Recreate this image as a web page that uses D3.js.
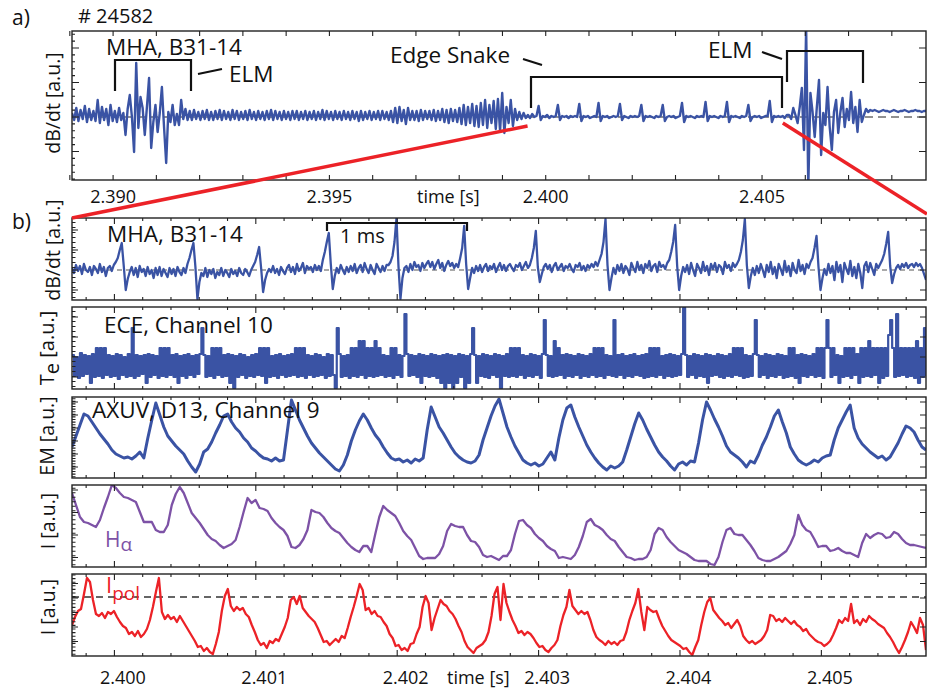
<!DOCTYPE html>
<html><head><meta charset="utf-8">
<script src="https://cdn.jsdelivr.net/npm/d3@7"></script>
<style>body{margin:0;background:#fff}svg text{font-family:"Open Sans",sans-serif;fill:#111}</style>
</head><body>
<svg id="c" width="927" height="689"></svg>
<script>
// ---------------- DATA ----------------
const shotLabel = "# 24582";
const aTimeDomain = [2.38905, 2.40879];            // overview time window [s]
const bTimeDomain = [2.39970, 2.40574];            // zoomed time window [s]
const aTickLabels = [2.390, 2.395, 2.400, 2.405];
const bTickLabels = [2.400, 2.401, 2.402, 2.403, 2.404, 2.405];
const zoomTimes = [2.39958, 2.40548];               // zoomed interval marked in a)

// a) MHA B31-14 dB/dt, uniform samples over aTimeDomain
const mhaA = [4,-3,9,-4,7,-2,11,-5,8,-3, 6,-4,17,-6,10,-3,8,-8,12,-4, 6,-5,9,-3,4,-18,8,22,0,-35,
54,-11,20,9,-18,10,39,-31,-5,12, -15,4,30,-10,-46,5,-5,12,-8,3, -8,17,-2,8,-3,6,-3,7,-2,5,
-3,6,-2,7,-3,5,-3,6,-2,7, -3,6,-2,5,-3,7,-2,6,-3,5, -2,6,-3,7,-2,5,-3,6,-2,5, -3,6,-2,7,-3,6,-2,5,-3,6,
-2,5,-3,6,-2,6,-3,5,-2,6, -3,5,-2,6,-3,5,-2,7,-3,6, -2,5,-3,6,-2,5,-3,6,-2,5, -3,6,-2,5,-4,6,-3,5,-2,6,
-3,5,-2,6,-3,6,-2,5,-3,6, -5,9,-6,10,-4,7,-7,9,-3,6, -3,6,-4,7,-3,6,-2,6,-3,7, -4,6,-3,8,-5,7,-6,8,-4,7,
-5,9,-7,12,-8,10,-6,13,-9,11, -10,14,-8,17,-11,12,-6,16,-12,18, -14,24,-16,10,-6,17,-9,8,-3,5,
-2,4,-1,2,-1,3,0,1,11,-3, 1,0,2,-1,1,0,1,12,-3,1, 0,1,-1,1,0,1,0,13,-4,1, 0,1,-1,0,1,0,14,-4,1,0,
1,-1,0,1,0,1,13,-3,1,0, -1,1,0,1,0,1,12,-4,1,0, 1,0,-1,1,0,1,12,-4,0,1, 0,1,-1,0,1,14,-5,1,0,1,
0,-1,1,0,1,0,15,-4,1,0, 1,0,-1,1,0,1,15,-5,1,0, 1,0,-1,1,0,1,12,-4,0,1, 0,1,-1,0,1,1,16,-5,1,0,
1,0,1,-1,2,2,-2,9,2,-6, 10,29,-33,90,-70,24,5,-20,10,37, -38,4,-8,30,-10,-33,5,17,-16,5,
19,-10,8,-3,25,-6,10,-15,17,-5, 2,8,5,7,
6,7,6,5,6,7,6,6,5,6,7,6,5,6,6,7,6,5,6,6,7,6,6,5,6,6];

// b) MHA B31-14 dB/dt, uniform samples over bTimeDomain
const mhaB = [2,-3,5,-1,4,-4,6,0,-2,3, -5,4,1,-3,6,-2,3,-6,2,4, -1,5,8,12,20,27,4,-20,-9,-2,
3,-5,2,-7,4,-2,1,-6,3,-4, 0,-8,2,-5,3,-6,1,-3,-7,2, -4,1,-6,3,-2,-5,2,-3,6,12,
20,27,3,-29,-12,-3,-6,2,-7,0, -4,1,-8,-2,-5,2,-6,0,-3,-7, 1,-4,-1,-6,2,-3,-5,1,-2,-6,
0,4,8,15,23,2,-22,-10,-3,1, -2,4,-3,1,-5,3,-1,-4,2,5, -2,3,-4,6,-1,2,7,-3,4,1,
3,-2,5,0,4,-1,10,18,28,37, 6,-19,-6,2,-3,5,0,-4,3,-2, 4,-1,6,-3,2,5,-2,7,1,-3,
5,0,-4,6,2,-2,4,-1,5,5, 8,14,28,52,4,-29,-8,2,4,-2, 6,0,8,3,5,-1,7,2,6,9,
3,8,1,6,10,2,7,-1,5,9, 4,7,2,6,3,12,22,44,6,-19, -8,2,-3,4,-1,5,-2,3,6,-1,
4,1,6,-2,3,7,0,5,-1,4, 6,2,-1,5,3,7,0,4,8,2, 5,12,22,39,3,-12,-4,3,6,1,
5,-2,4,7,0,3,6,-1,4,2, 6,1,-2,5,3,7,0,4,-1,5, 2,6,3,8,4,10,16,28,51,5,
-20,-8,2,-4,5,-1,6,-3,4,1, -5,7,2,-2,8,0,5,-3,6,2, 9,-1,4,6,-2,8,3,5,1,7,
10,18,28,45,4,-20,-6,3,-2,5, -4,7,0,-6,6,2,-3,8,-1,4, -5,6,1,7,-2,5,3,-4,8,2,
5,-1,7,3,6,10,18,30,51,5, -18,-6,2,-5,4,-3,6,0,-7,5, -2,8,-4,3,-8,6,1,-5,9,-2,
4,-6,7,0,-3,10,-1,5,-4,6, 2,8,12,22,34,3,-20,-8,1,-5, 6,-3,4,-10,8,-2,5,-12,7,1,
-4,9,-6,3,-8,6,-3,-18,4,8, -2,7,1,-5,6,2,6,10,16,26, 38,4,-13,-4,2,5,1,6,3,7,
2,5,6,3,7,4,6,2,-4,-10];

const ece = [34,13,32,11,36,13,34,15,33,6, 35,12,41,13,41,11,41,14,34,12, 33,13,35,10,34,14,32,12,35,13,
61,11,34,13,33,15,34,6,35,12, 34,14,33,11,41,13,41,12,41,14, 34,12,35,6,33,13,34,11,35,14,
33,12,34,15,35,61,34,12,33,13, 41,11,41,14,41,12,34,13,35,6, 34,1,33,12,35,14,34,11,32,13,
34,12,35,14,41,13,41,6,41,12, 33,13,34,11,35,14,33,12,34,13, 35,14,41,12,41,13,41,11,34,14,
33,12,35,13,34,14,32,11,35,13, 34,14,1,61,35,12,33,13,34,11, 41,13,41,12,48,14,48,11,41,13,
41,12,48,13,41,14,34,12,33,13, 41,11,41,14,34,12,33,75,35,13, 34,14,33,12,35,6,34,13,33,12,
35,13,34,11,33,6,34,1,35,6, 34,1,33,6,35,12,34,1,33,6, 35,61,34,6,33,13,35,12,34,11,
33,14,35,12,34,1,33,13,35,12, 41,13,41,12,41,14,34,11,33,13, 35,12,34,14,33,11,35,69,34,13,
33,12,48,13,41,14,34,11,35,13, 34,12,33,14,35,11,34,13,33,12, 35,14,41,12,41,13,41,11,34,14,
33,13,69,12,34,14,35,11,33,13, 34,12,35,14,33,13,34,11,35,12, 41,13,41,12,41,14,33,11,34,13,
35,12,34,13,33,14,35,81,34,12, 33,14,35,11,34,13,33,12,35,6, 34,13,33,14,35,12,34,11,33,13,
35,12,41,14,41,13,41,11,34,12, 33,13,35,69,34,12,33,14,35,11, 34,13,33,12,35,14,34,11,33,12,
41,13,41,11,34,6,35,13,34,12, 33,14,35,12,41,13,41,11,41,69, 41,12,41,14,34,6,33,12,41,13,
41,11,41,14,35,6,41,12,41,13, 48,12,41,14,41,6,41,11,41,13, 54,69,41,12,75,13,41,14,41,12,
41,13,41,11,48,6,41,12,61,13];

// AXUV D13 channel 9, emission
const axuv = [31,42,53,64,62,56,50,44,39,34, 28,24,22,20,21,19,22,26,20,40, 58,75,63,51,42,37,32,28,24,17,
11,6,14,26,29,36,45,53,62,64, 56,50,46,40,36,30,27,23,20,19, 17,20,17,18,48,78,68,58,50,42,
35,30,25,21,17,13,9,7,13,23, 37,48,57,64,58,50,43,38,31,25, 20,18,19,16,18,15,19,17,20,48,
71,61,51,45,38,31,25,21,18,16, 15,17,23,38,50,62,72,79,65,51, 41,32,25,18,15,13,15,12,14,20,
26,18,40,58,70,73,61,51,42,33, 26,20,15,11,8,12,10,12,16,28, 41,54,65,58,49,41,33,26,21,17,
12,8,14,16,13,17,16,35,58,76, 68,59,51,42,32,26,23,20,16,11, 17,15,23,33,41,51,62,68,56,45,
31,24,18,15,13,15,18,16,20,22, 23,38,50,58,66,73,50,40,34,30, 26,23,20,22,18,21,28,35,44,52,
50,46,38,31,28];

// H-alpha intensity
const halpha = [74,62,50,45,44,42,40,47,59,70, 82,79,74,70,69,67,65,55,45,45, 45,37,35,35,42,62,73,80,74,64,
54,49,44,38,32,28,26,22,19,21, 23,27,40,55,69,64,67,59,58,56, 49,44,40,37,31,20,19,22,28,37,
57,55,54,50,44,39,36,34,29,24, 20,17,15,21,21,15,33,50,61,57, 54,51,44,36,31,27,19,11,8,9,
9,9,13,21,36,43,41,40,40,32, 26,25,20,12,10,11,9,7,11,11, 17,33,46,47,42,39,33,29,26,21,
18,16,9,10,9,8,12,20,31,45, 48,42,40,37,32,28,26,20,15,10, 9,7,8,8,10,17,33,39,37,30,
25,21,17,15,13,10,7,6,6,6, 3,2,10,25,37,39,33,32,32,27, 22,16,9,7,6,6,8,10,13,16,
23,32,52,42,37,35,28,20,21,21, 16,17,19,16,14,14,12,10,24,33, 29,32,34,33,29,30,35,33,28,24,
22,22,21,20,19];

// I_pol current
const ipol = [31,39,45,47,62,78,74,56,42,40, 43,38,44,42,45,39,34,30,28,22, 24,20,25,19,22,27,36,49,64,78,
44,37,41,37,39,34,40,35,30,25, 20,15,9,10,5,8,4,2,12,24, 45,60,67,50,45,49,46,48,42,39,
31,24,16,11,13,8,15,13,17,15, 22,29,38,56,59,52,60,48,44,40, 37,34,28,21,14,15,11,14,17,14,
20,18,28,39,49,60,72,66,46,48, 42,45,40,39,34,30,22,18,10,11, 6,8,5,12,13,22,29,49,60,53,
26,38,47,56,52,50,45,42,37,30, 24,15,9,6,3,8,10,12,16,24, 40,62,69,36,72,53,44,36,30,23,
25,21,24,22,18,13,9,10,6,4, 8,11,16,30,41,49,66,50,46,42, 45,42,44,36,26,19,16,14,11,15,
12,14,11,15,16,24,36,45,53,67, 44,26,49,46,44,45,37,30,25,20, 16,14,12,10,7,8,4,1,9,16,
31,44,54,58,46,42,38,35,31,33, 28,32,36,30,20,16,13,15,12,14, 16,20,26,41,40,35,37,34,38,35,
32,35,31,29,25,27,22,19,16,14, 13,10,12,15,21,28,36,33,38,35, 52,33,36,31,37,34,40,37,35,32,
30,28,23,19,14,8,3,9,16,24, 34,29,23,38,31,6];
const ipolRef = 59;   // dashed reference level

// ---------------- LAYOUT / STYLE ----------------
const BLUE = "#3a53a4", PURPLE = "#7d52a6", RED = "#ec2227";
const L = 72, R = 926;
const svg = d3.select("#c");
const xa = d3.scaleLinear().domain(aTimeDomain).range([L, R]);
const xb = d3.scaleLinear().domain(bTimeDomain).range([L, R]);

function series(vals, dom) {
  const n = vals.length;
  return vals.map((v, i) => ({ t: dom[0] + i * (dom[1] - dom[0]) / (n - 1), v }));
}
let clipId = 0;
function clip(top, bottom) {
  const id = "clp" + (clipId++);
  svg.append("clipPath").attr("id", id).append("rect")
    .attr("x", L).attr("y", top).attr("width", R - L).attr("height", bottom - top);
  return "url(#" + id + ")";
}
function ticks(x, y, top, bottom, xMaj, xMin, yMaj, yMin, lens) {
  const p = d3.path();
  const [xM, xm, yM, ym] = lens;
  xMaj.forEach(t => { const X = x(t); p.moveTo(X, top); p.lineTo(X, top + xM); p.moveTo(X, bottom); p.lineTo(X, bottom - xM); });
  xMin.forEach(t => { const X = x(t); p.moveTo(X, top); p.lineTo(X, top + xm); p.moveTo(X, bottom); p.lineTo(X, bottom - xm); });
  yMaj.forEach(v => { const Y = y(v); p.moveTo(L, Y); p.lineTo(L + yM, Y); p.moveTo(R, Y); p.lineTo(R - yM, Y); });
  yMin.forEach(v => { const Y = y(v); p.moveTo(L, Y); p.lineTo(L + ym, Y); });
  svg.append("path").attr("d", p.toString()).attr("stroke", "#222").attr("stroke-width", 1.1).attr("fill", "none");
  svg.append("rect").attr("x", L).attr("y", top).attr("width", R - L).attr("height", bottom - top)
    .attr("fill", "none").attr("stroke", "#222").attr("stroke-width", 1.4);
}
function txt(x, y, s, size, opts = {}) {
  const t = svg.append("text").attr("x", x).attr("y", y).attr("font-size", size).text(s);
  if (opts.anchor) t.attr("text-anchor", opts.anchor);
  if (opts.fill) t.style("fill", opts.fill);
  return t;
}
function vlabel(x, cy, parts, size) {
  const t = svg.append("text").attr("transform", `translate(${x},${cy}) rotate(-90)`)
    .attr("text-anchor", "middle").attr("font-size", size);
  parts.forEach(p => t.append("tspan").attr("dy", p.dy || 0).text(p.s));
  return t;
}
function poly(pts) {
  svg.append("path").attr("d", d3.line()(pts)).attr("fill", "none").attr("stroke", "#111").attr("stroke-width", 2.2);
}

// ---------------- PANEL a ----------------
const aTop = 31, aBot = 180;
const ya = d3.scaleLinear().domain([-63, 86]).range([aBot, aTop]);
svg.append("line").attr("x1", L).attr("x2", R).attr("y1", ya(0)).attr("y2", ya(0))
  .attr("stroke", "#222").attr("stroke-width", 1.2).attr("stroke-dasharray", "8,5");
svg.append("path").datum(series(mhaA, aTimeDomain))
  .attr("clip-path", clip(aTop, aBot))
  .attr("d", d3.line().x(d => xa(d.t)).y(d => ya(d.v)))
  .attr("fill", "none").attr("stroke", BLUE).attr("stroke-width", 2.4).attr("stroke-linejoin", "round");
ticks(xa, ya, aTop, aBot, d3.range(2389, 2409).map(v => v / 1000), [],
  [-34.5, 0, 34.5, 69], d3.range(-62.1, 86, 6.9), [5, 3, 7, 3]);
aTickLabels.forEach(t => txt(xa(t), 203, t.toFixed(3), 18, { anchor: "middle" }));
txt(417, 203, "time [s]", 18);
txt(12, 25, "a)", 21);
txt(78, 23, shotLabel, 20);
vlabel(60, 103, [{ s: "dB/dt [a.u.]" }], 19.5);
txt(106, 55, "MHA, B31-14", 22.5);
txt(229, 82, "ELM", 22.5);
txt(390, 63, "Edge Snake", 22.5);
txt(708, 58, "ELM", 22.5);
poly([[115, 91], [115, 60], [191, 60], [191, 91]]);
poly([[198, 74], [222, 69]]);
poly([[531, 108], [531, 77], [782, 77], [782, 108]]);
poly([[523, 59], [542, 65]]);
poly([[787, 82], [787, 51], [863, 51], [863, 83]]);
poly([[762, 52], [782, 59]]);

// ---------------- PANEL b ----------------
const bPanels = [
  { data: mhaB, top: 218, bot: 300, dom: [-30, 52], color: BLUE, w: 2.3, maj: [-20, 0, 20, 40], minStep: 5, zero: 0, curve: d3.curveLinear },
  { data: ece, top: 307, bot: 389, dom: [0, 82], color: BLUE, w: 2.2, maj: [12, 32, 52, 72], minStep: 5, curve: d3.curveStepAfter },
  { data: axuv, top: 397, bot: 478, dom: [0, 81], color: BLUE, w: 3, maj: [11, 24, 37, 50, 63, 76], minStep: 2.6, curve: d3.curveLinear },
  { data: halpha, top: 485, bot: 567, dom: [0, 82], color: PURPLE, w: 2.3, maj: [9.5, 32, 54.5, 77], minStep: 4.5, curve: d3.curveLinear },
  { data: ipol, top: 574, bot: 656, dom: [0, 82], color: RED, w: 2.3, maj: [14.5, 29, 43.5, 58, 72.5], minStep: 3.6, ref: ipolRef, curve: d3.curveLinear }
];
const bMinor = d3.range(0, 31).map(k => 2.3998 + k * 0.0002).filter(t => t < bTimeDomain[1] && Math.abs(t * 1000 - Math.round(t * 1000)) > 1e-6);
bPanels.forEach(p => {
  const y = d3.scaleLinear().domain(p.dom).range([p.bot, p.top]);
  if (p.zero !== undefined)
    svg.append("line").attr("x1", L).attr("x2", R).attr("y1", y(p.zero)).attr("y2", y(p.zero))
      .attr("stroke", "#555").attr("stroke-width", 1).attr("stroke-dasharray", "5,4");
  if (p.ref !== undefined)
    svg.append("line").attr("x1", L).attr("x2", R).attr("y1", y(p.ref)).attr("y2", y(p.ref))
      .attr("stroke", "#333").attr("stroke-width", 1.3).attr("stroke-dasharray", "7,5");
  svg.append("path").datum(series(p.data, bTimeDomain))
    .attr("clip-path", clip(p.top, p.bot))
    .attr("d", d3.line().curve(p.curve).x(d => xb(d.t)).y(d => y(d.v)))
    .attr("fill", "none").attr("stroke", p.color).attr("stroke-width", p.w).attr("stroke-linejoin", "round");
  ticks(xb, y, p.top, p.bot, bTickLabels, bMinor, p.maj,
    d3.range(p.dom[0] + p.minStep / 2, p.dom[1], p.minStep), [6, 3, 6, 3.5]);
});
bTickLabels.forEach(t => txt(xb(t) + 8.5, 684, t.toFixed(3), 18, { anchor: "middle" }));
txt(447, 684, "time [s]", 18);
txt(12, 229, "b)", 21);
vlabel(60, 250, [{ s: "dB/dt [a.u.]" }], 19.5);
vlabel(54, 348, [{ s: "T" }, { s: "e", dy: 5 }, { s: " [a.u.]", dy: -5 }], 20);
vlabel(54, 436, [{ s: "EM [a.u.]" }], 19.5);
vlabel(55, 521, [{ s: "I [a.u.]" }], 19.5);
vlabel(55, 607, [{ s: "I [a.u.]" }], 19.5);
txt(107, 242, "MHA, B31-14", 22.5);
txt(340, 243, "1 ms", 20);
poly([[327, 231], [327, 223], [467, 223], [467, 231]]);
txt(104, 333, "ECE, Channel 10", 22.5);
txt(92, 418, "AXUV, D13, Channel 9", 22.5);
const ha = txt(105, 547, "H", 21, { fill: PURPLE });
ha.append("tspan").attr("dy", 4).attr("font-size", 19).text("α");
const ip = txt(106, 593, "I", 22, { fill: RED });
ip.append("tspan").attr("dy", 7).attr("font-size", 19).text("pol");

// ---------------- zoom connectors ----------------
svg.append("line").attr("x1", L).attr("y1", 218).attr("x2", xa(zoomTimes[0])).attr("y2", 126)
  .attr("stroke", RED).attr("stroke-width", 3.5);
svg.append("line").attr("x1", xa(zoomTimes[1])).attr("y1", 123).attr("x2", 927).attr("y2", 214)
  .attr("stroke", RED).attr("stroke-width", 3.5);
</script>
</body></html>
